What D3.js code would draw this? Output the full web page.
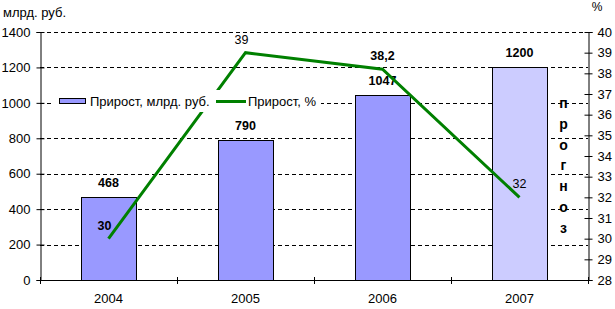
<!DOCTYPE html>
<html><head><meta charset="utf-8">
<script src="https://cdn.jsdelivr.net/npm/d3@7"></script>
<style>
html,body{margin:0;padding:0;background:#fff;}
svg{display:block;font-family:"Liberation Sans",Arial,sans-serif;}
</style></head>
<body><svg id="c" width="615" height="309"></svg>
<script>
const years = ["2004","2005","2006","2007"];
const growthBn = [468, 790, 1047, 1200];
const growthPct = [30, 39, 38.2, 32];
const pctLabels = ["30","39","38,2","32"];
const leftTicks = [0,200,400,600,800,1000,1200,1400];
const rightTicks = [28,29,30,31,32,33,34,35,36,37,38,39,40];
const forecastWord = "прогноз";
const legendLabels = ["Прирост, млрд. руб.","Прирост, %"];
const unitLeft = "млрд. руб.";
const unitRight = "%";

const svg = d3.select("#c");
const X0 = 40, X1 = 588, Y0 = 280, Y1 = 32;
const x = d3.scaleBand().domain(years).range([X0, X1]).paddingInner(0.6).paddingOuter(0.3);
const step = x.step();
const y = d3.scaleLinear().domain([0,1400]).range([Y0, Y1]);
const y2 = d3.scaleLinear().domain([28,40]).range([Y0, Y1]);
const cx = d => x(d) + x.bandwidth()/2;

// gridlines
svg.append("g").selectAll("line").data(leftTicks.filter(d=>d>0)).join("line")
  .attr("x1", X0).attr("x2", X1).attr("y1", d=>Math.round(y(d))+0.5).attr("y2", d=>Math.round(y(d))+0.5)
  .attr("stroke","#000").attr("stroke-width",1).attr("stroke-dasharray","4,3");

// bars
svg.append("g").selectAll("rect").data(years).join("rect")
  .attr("x", d=>Math.round(x(d))+0.5).attr("width", Math.round(x.bandwidth()))
  .attr("y", (d,i)=>Math.round(y(growthBn[i]))+0.5).attr("height",(d,i)=>Y0-Math.round(y(growthBn[i])))
  .attr("fill",(d,i)=> i===3 ? "#CCCCFF" : "#9999FF").attr("stroke","#000").attr("stroke-width",1);

// bar labels
svg.append("g").selectAll("text").data(years).join("text")
  .attr("x", d=>cx(d)).attr("y",(d,i)=>y(growthBn[i])-10)
  .attr("text-anchor","middle").attr("font-size","12.5px").attr("font-weight","bold")
  .text((d,i)=>growthBn[i]);

// line
const line = d3.line().x((d,i)=>cx(years[i])).y(d=>y2(d));
svg.append("path").datum(growthPct).attr("d",line)
  .attr("fill","none").attr("stroke","#008000").attr("stroke-width",3).attr("stroke-linejoin","miter");

// axes
const fmt = d3.format("d");
const gL = svg.append("g").attr("transform",`translate(${X0+0.5},0)`)
  .call(d3.axisLeft(y).tickValues(leftTicks).tickFormat(fmt).tickSizeOuter(0).tickSize(4).tickPadding(6));
const gR = svg.append("g").attr("transform",`translate(${X1+0.5},0)`)
  .call(d3.axisRight(y2).tickValues(rightTicks).tickFormat(fmt).tickSizeOuter(0).tickSize(4).tickPadding(5));
[gL,gR].forEach(g=>{
  g.select(".domain").attr("stroke","#000");
  g.selectAll(".tick line").attr("stroke","#000");
  g.selectAll(".tick text").attr("font-size","13px").attr("fill","#000")
    .attr("font-family","'Liberation Sans',Arial,sans-serif");
});
gL.selectAll(".tick line").attr("x1",4).attr("x2",-4);
gR.selectAll(".tick line").attr("x1",-4).attr("x2",4);
gL.selectAll(".tick text").attr("x",-10);
gR.selectAll(".tick text").attr("x",9);

// x axis
const bounds = d3.range(years.length+1).map(i=>X0+i*step);
svg.append("line").attr("x1",X0).attr("x2",X1+1).attr("y1",Y0+0.5).attr("y2",Y0+0.5).attr("stroke","#000");
svg.append("g").selectAll("line").data(bounds).join("line")
  .attr("x1",d=>Math.round(d)+0.5).attr("x2",d=>Math.round(d)+0.5).attr("y1",Y0-3).attr("y2",Y0+4).attr("stroke","#000");
svg.append("g").selectAll("text").data(years).join("text")
  .attr("x",d=>cx(d)).attr("y",303).attr("text-anchor","middle").attr("font-size","13px").text(d=>d);

// legend
const lg = svg.append("g");
lg.append("rect").attr("x",54).attr("y",90).attr("width",267).attr("height",22).attr("fill","#fff");
lg.append("rect").attr("x",59.5).attr("y",98.5).attr("width",26).attr("height",5).attr("fill","#9999FF").attr("stroke","#000");
lg.append("text").attr("x",90).attr("y",105.5).attr("font-size","13px").text(legendLabels[0]);
lg.append("line").attr("x1",216).attr("x2",246).attr("y1",101.5).attr("y2",101.5).attr("stroke","#008000").attr("stroke-width",3);
lg.append("text").attr("x",248).attr("y",105.5).attr("font-size","13px").text(legendLabels[1]);

// line labels
const pctWeight = ["bold","normal","bold","normal"];
svg.append("g").selectAll("text").data(growthPct).join("text")
  .attr("x",(d,i)=>cx(years[i])-(i<2?4:0)).attr("y",d=>y2(d)-9)
  .attr("text-anchor","middle").attr("font-size","12.5px").attr("font-weight",(d,i)=>pctWeight[i])
  .text((d,i)=>pctLabels[i]);

// forecast vertical word
svg.append("g").selectAll("text").data(forecastWord.split("")).join("text")
  .attr("x",563.5).attr("y",(d,i)=>103+i*20.8).attr("dominant-baseline","central")
  .attr("text-anchor","middle").attr("font-size","14px").attr("font-weight","bold").text(d=>d);

// unit titles
svg.append("text").attr("x",3).attr("y",17).attr("font-size","13px").text(unitLeft);
svg.append("text").attr("x",597).attr("y",11).attr("text-anchor","middle").attr("font-size","12px").text(unitRight);
</script></body></html>
